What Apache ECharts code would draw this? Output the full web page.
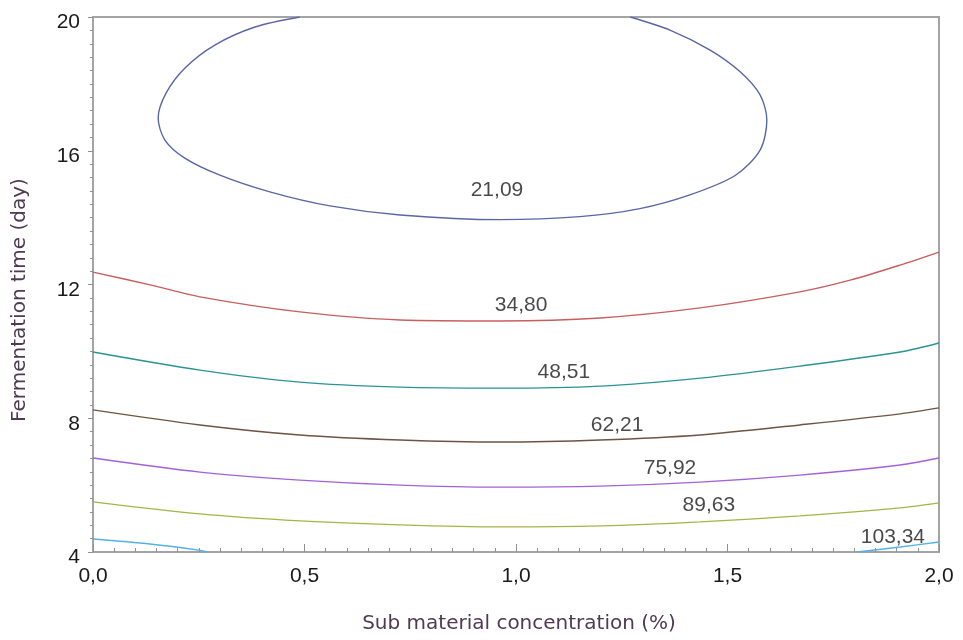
<!DOCTYPE html>
<html>
<head>
<meta charset="utf-8">
<script src="https://cdn.jsdelivr.net/npm/echarts@6/dist/echarts.min.js"></script>
<style>
  html, body { margin: 0; padding: 0; background: #fff; }
  #chart { width: 963px; height: 640px; }
</style>
</head>
<body>
<div id="chart"></div>
<script>
// Contour levels of the response surface
const levels = [21.09, 34.80, 48.51, 62.21, 75.92, 89.63, 103.34];
const levelColors = ['#5a66a6', '#c85e5e', '#2a9494', '#6e5444', '#a462d6', '#a6b446', '#52b2e6'];

// Contour lines: [concentration %, fermentation day]
const line2109 = [
  [0.489, 20.0], [0.383, 19.70], [0.288, 19.16], [0.217, 18.47], [0.173, 17.73],
  [0.154, 16.98], [0.170, 16.32], [0.217, 15.78], [0.300, 15.27], [0.418, 14.77],
  [0.560, 14.35], [0.726, 14.08], [0.962, 13.94], [1.151, 14.03], [1.293, 14.27],
  [1.411, 14.68], [1.518, 15.26], [1.577, 16.02], [1.593, 16.92], [1.577, 17.67],
  [1.530, 18.36], [1.459, 19.01], [1.364, 19.61], [1.270, 20.0]
];
const line3480 = [
  [0, 12.37], [0.135, 11.99], [0.253, 11.63], [0.489, 11.18], [0.726, 10.94],
  [0.962, 10.91], [1.199, 11.00], [1.435, 11.30], [1.671, 11.78], [1.790, 12.13],
  [1.908, 12.58], [2.0, 12.97]
];
const line4851 = [
  [0, 9.98], [0.253, 9.44], [0.489, 9.08], [0.726, 8.93], [0.962, 8.90],
  [1.199, 8.96], [1.435, 9.20], [1.671, 9.56], [1.908, 9.98], [2.0, 10.25]
];
const line6221 = [
  [0, 8.25], [0.253, 7.80], [0.489, 7.50], [0.726, 7.35], [0.962, 7.29],
  [1.199, 7.35], [1.435, 7.50], [1.671, 7.80], [1.908, 8.13], [2.0, 8.31]
];
const line7592 = [
  [0, 6.81], [0.253, 6.39], [0.489, 6.15], [0.726, 6.00], [0.962, 5.94],
  [1.199, 5.97], [1.435, 6.09], [1.671, 6.30], [1.908, 6.60], [2.0, 6.81]
];
const line8963 = [
  [0, 5.50], [0.253, 5.14], [0.489, 4.93], [0.726, 4.81], [0.962, 4.75],
  [1.199, 4.78], [1.435, 4.90], [1.671, 5.08], [1.908, 5.32], [2.0, 5.47]
];
const line10334 = [
  [0, 4.39], [0.135, 4.24], [0.253, 4.05], [0.27, 4.0], null,
  [1.806, 4.0], [1.908, 4.15], [2.0, 4.30]
];
const contourLines = [line2109, line3480, line4851, line6221, line7592, line8963, line10334];

// Where each level's label sits
const labelPositions = [
  [0.955, 14.83], [1.012, 11.39], [1.113, 9.38], [1.239, 7.80],
  [1.364, 6.51], [1.456, 5.41], [1.891, 4.45]
];

// Axis ranges and ticks
const xMin = 0, xMax = 2, xStep = 0.5;
const yMin = 4, yMax = 20, yStep = 4;
const xTitle = 'Sub material concentration (%)';
const yTitle = 'Fermentation time (day)';

const fmtComma = (v, d) => v.toFixed(d).replace('.', ',');
const NUM_FONT = '"Liberation Sans", Arial, sans-serif';
const TITLE_FONT = '"DejaVu Sans", Verdana, sans-serif';
const TITLE_COLOR = '#4e3a52';

const chart = echarts.init(document.getElementById('chart'), null, { renderer: 'canvas' });

const series = contourLines.map((pts, i) => ({
  type: 'line',
  name: fmtComma(levels[i], 2),
  data: pts.map(p => (p === null ? '-' : p)),
  showSymbol: false,
  smooth: 0.3,
  connectNulls: false,
  clip: true,
  lineStyle: { color: levelColors[i], width: 1.4 },
  silent: true,
  z: 2
}));

series.push({
  type: 'scatter',
  symbolSize: 0,
  silent: true,
  data: labelPositions.map((p, i) => ({ value: p, name: fmtComma(levels[i], 2) })),
  label: {
    show: true,
    position: 'inside',
    formatter: p => p.name,
    color: '#1a1a1a',
    fontSize: 21,
    fontFamily: NUM_FONT
  },
  z: 5
});

chart.setOption({
  animation: false,
  backgroundColor: '#ffffff',
  grid: {
    left: 93, right: 24, top: 17, bottom: 88,
    show: true, borderColor: '#a4a4a4', borderWidth: 2
  },
  xAxis: {
    type: 'value',
    min: xMin, max: xMax, interval: xStep,
    name: xTitle,
    nameLocation: 'middle',
    nameGap: 62,
    nameTextStyle: { color: TITLE_COLOR, fontSize: 20, fontFamily: TITLE_FONT, padding: [0, 0, 0, 6] },
    axisLine: { show: true, lineStyle: { color: '#a4a4a4', width: 2 } },
    axisTick: { show: true, inside: true, length: 8, lineStyle: { color: '#909090' } },
    minorTick: { show: true, splitNumber: 10, length: 4, lineStyle: { color: '#909090' } },
    splitLine: { show: false },
    axisLabel: {
      color: '#1a1a1a', fontSize: 21, fontFamily: NUM_FONT, margin: 14,
      formatter: v => fmtComma(v, 1)
    }
  },
  yAxis: {
    type: 'value',
    min: yMin, max: yMax, interval: yStep,
    axisLine: { show: true, lineStyle: { color: '#a4a4a4', width: 2 } },
    axisTick: { show: true, inside: false, length: 5, lineStyle: { color: '#909090' } },
    minorTick: { show: true, splitNumber: 10, length: 3, lineStyle: { color: '#909090' } },
    splitLine: { show: false },
    axisLabel: {
      color: '#1a1a1a', fontSize: 21, fontFamily: NUM_FONT, margin: 13,
      verticalAlign: 'top', lineHeight: 11,
      formatter: v => String(v)
    }
  },
  graphic: [{
    type: 'text',
    x: 20, y: 300,
    rotation: Math.PI / 2,
    style: {
      text: yTitle,
      fill: TITLE_COLOR,
      font: '20px ' + TITLE_FONT,
      align: 'center',
      verticalAlign: 'middle'
    },
    silent: true
  }],
  series
});
</script>
</body>
</html>
